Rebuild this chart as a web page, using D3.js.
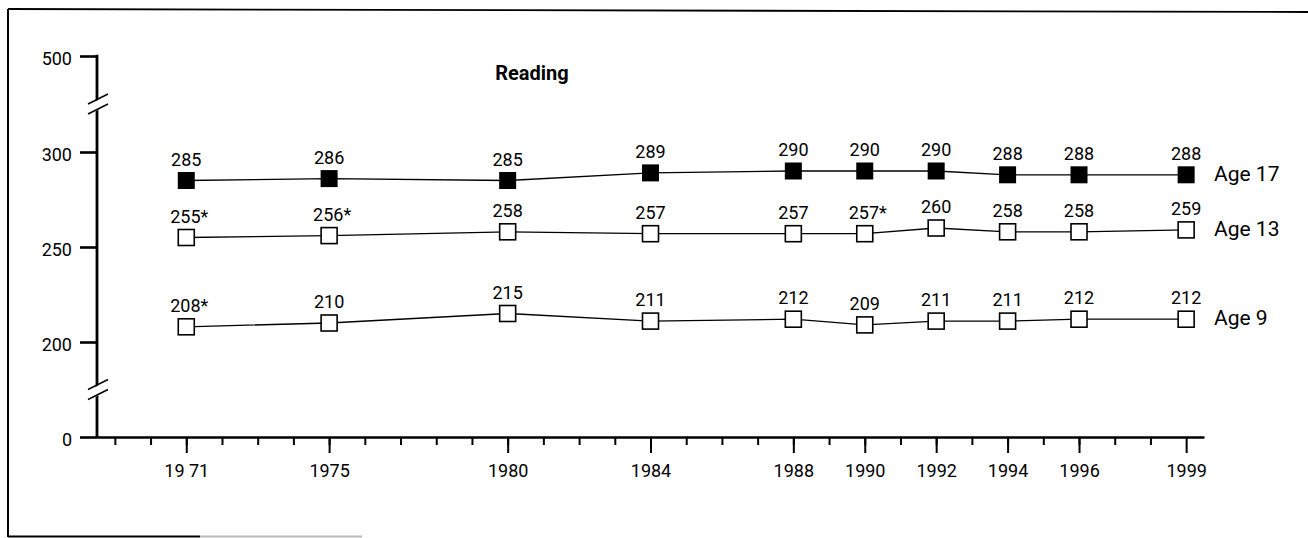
<!DOCTYPE html>
<html>
<head>
<meta charset="utf-8">
<script src="https://cdn.jsdelivr.net/npm/d3@7"></script>
<style>
  body { margin: 0; background: #fff; }
  svg text { font-family: Roboto, "Noto Sans", sans-serif; fill: #000; }
</style>
</head>
<body>
<script>
'use strict';

// survey years and tick labels
const years = [1971, 1975, 1980, 1984, 1988, 1990, 1992, 1994, 1996, 1999];
const yearLabels = ["19 71", "1975", "1980", "1984", "1988", "1990", "1992", "1994", "1996", "1999"];
const minorYears = d3.range(1969, 1999);

// series values (Reading average scale scores)
const age17 = [285, 286, 285, 289, 290, 290, 290, 288, 288, 288];
const age13 = [255, 256, 258, 257, 257, 257, 260, 258, 258, 259];
const age9 = [208, 210, 215, 211, 212, 209, 211, 211, 212, 212];

// significance stars next to the value labels
const age17Star = [false, false, false, false, false, false, false, false, false, false];
const age13Star = [true, true, false, false, false, true, false, false, false, false];
const age9Star = [true, false, false, false, false, false, false, false, false, false];

const seriesNames = ["Age 17", "Age 13", "Age 9"];
const yTicks = [0, 200, 250, 300, 500];

(function() {
  let svg = d3.select('body')
    .append('svg')
    .attr('width', 1308)
    .attr('height', 538);

  // outer frame (scanned, slightly skewed)
  svg.append('line').attr('x1', 8).attr('y1', 9).attr('x2', 1308).attr('y2', 12)
    .attr('stroke', '#000').attr('stroke-width', 1.8);
  svg.append('line').attr('x1', 8).attr('y1', 9).attr('x2', 8).attr('y2', 537)
    .attr('stroke', '#000').attr('stroke-width', 2);
  svg.append('line').attr('x1', 8).attr('y1', 536.5).attr('x2', 200).attr('y2', 536.5)
    .attr('stroke', '#000').attr('stroke-width', 2);
  svg.append('line').attr('x1', 200).attr('y1', 536.5).attr('x2', 362).attr('y2', 536.5)
    .attr('stroke', '#bbb').attr('stroke-width', 2);

  // x scale: one step per year
  let x = d3.scaleLinear()
    .domain([1968.5, 1999.5])
    .range([97, 1204]);

  // y scale with breaks between 0-200 and 300-500
  let y = d3.scaleLinear()
    .domain([0, 200, 300, 500])
    .range([437, 342, 152, 56]);

  // minor year ticks
  let minorAxis = d3.axisBottom(x)
    .tickValues(minorYears)
    .tickSize(8)
    .tickSizeOuter(0)
    .tickFormat('');
  let gMinor = svg.append('g')
    .attr('transform', 'translate(0, 437)')
    .call(minorAxis);
  gMinor.select('.domain').attr('stroke-width', 2.6);
  gMinor.selectAll('.tick line').attr('stroke-width', 2);

  // labelled survey years
  let majorAxis = d3.axisBottom(x)
    .tickValues(years)
    .tickSize(16)
    .tickPadding(11)
    .tickFormat((d, i) => yearLabels[i]);
  let gMajor = svg.append('g')
    .attr('transform', 'translate(0, 437)')
    .call(majorAxis);
  gMajor.select('.domain').remove();
  gMajor.selectAll('.tick line').attr('stroke-width', 2);
  gMajor.selectAll('text').style('font-size', '18px');

  // y axis
  let yAxis = d3.axisLeft(y)
    .tickValues(yTicks)
    .tickSize(17)
    .tickPadding(8);
  let gy = svg.append('g')
    .attr('transform', 'translate(97, 0)')
    .call(yAxis);
  gy.select('.domain').remove();
  gy.selectAll('.tick line').attr('stroke-width', 2.6);
  gy.selectAll('text').style('font-size', '18px').attr('dy', '0.45em');

  svg.append('line')
    .attr('x1', 97).attr('x2', 97)
    .attr('y1', y(500) - 1.3).attr('y2', y(0) + 1.3)
    .attr('stroke', '#000').attr('stroke-width', 2.8);

  // axis break marks
  [y(400), y(100)].forEach((by) => {
    svg.append('path')
      .attr('d', `M88,${by + 1} L108,${by - 9} L108,${by + 1} L88,${by + 11} Z`)
      .attr('fill', '#fff');
    [0, 10].forEach((off) => {
      svg.append('line')
        .attr('x1', 88).attr('y1', by + off)
        .attr('x2', 108).attr('y2', by + off - 10)
        .attr('stroke', '#000').attr('stroke-width', 1.4);
    });
  });

  // title
  svg.append('text')
    .attr('x', 532)
    .attr('y', 80)
    .attr('text-anchor', 'middle')
    .style('font-size', '20px')
    .style('font-weight', 'bold')
    .text('Reading');

  let series = [
    { name: seriesNames[0], values: age17, stars: age17Star, filled: true },
    { name: seriesNames[1], values: age13, stars: age13Star, filled: false },
    { name: seriesNames[2], values: age9, stars: age9Star, filled: false }
  ];

  let line = d3.line()
    .x((d, i) => x(years[i]))
    .y((d) => y(d));

  series.forEach((s) => {
    let g = svg.append('g');

    g.append('path')
      .datum(s.values)
      .attr('d', line)
      .attr('fill', 'none')
      .attr('stroke', '#000')
      .attr('stroke-width', 1.3);

    let size = s.filled ? 17 : 16;
    g.selectAll('rect')
      .data(s.values)
      .enter()
      .append('rect')
        .attr('x', (d, i) => x(years[i]) - size / 2)
        .attr('y', (d) => y(d) - size / 2)
        .attr('width', size)
        .attr('height', size)
        .attr('fill', s.filled ? '#000' : '#fff')
        .attr('stroke', '#000')
        .attr('stroke-width', s.filled ? 0 : 1.6);

    g.selectAll('.val')
      .data(s.values)
      .enter()
      .append('text')
        .attr('class', 'val')
        .attr('x', (d, i) => x(years[i]) + (s.stars[i] ? 3 : 0))
        .attr('y', (d) => y(d) - 15)
        .attr('text-anchor', 'middle')
        .style('font-size', '18px')
        .text((d, i) => d + (s.stars[i] ? '*' : ''));

    let last = s.values[s.values.length - 1];
    g.append('text')
      .attr('x', 1214)
      .attr('y', y(last) + 6)
      .style('font-size', '21px')
      .text(s.name);
  });
})();
</script>
</body>
</html>
